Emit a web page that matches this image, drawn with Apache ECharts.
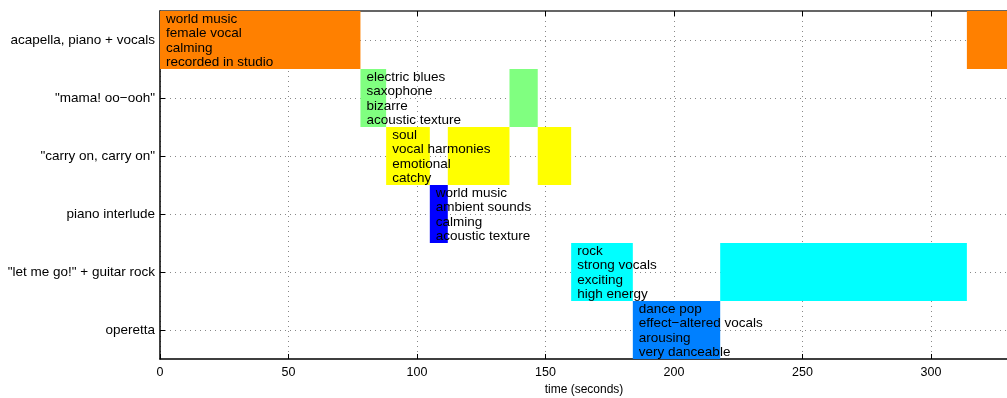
<!DOCTYPE html>
<html><head><meta charset="utf-8">
<script src="https://cdn.jsdelivr.net/npm/echarts@6/dist/echarts.min.js"></script>
<style>html,body{margin:0;padding:0;background:#fff}#c{width:1007px;height:398px}</style>
</head><body><div id="c"></div>
<script>
var categories = ['acapella, piano + vocals', '"mama! oo\u2212ooh"', '"carry on, carry on"', 'piano interlude', '"let me go!" + guitar rock', 'operetta'];
var segStart = [0, 78, 88, 105, 112, 136, 147, 160, 184, 218, 314];
var segEnd   = [78, 88, 105, 112, 136, 147, 160, 184, 218, 314, 330];
var segCat   = [0, 1, 2, 3, 2, 1, 2, 4, 5, 4, 0];
var tags0 = ['world music', 'female vocal', 'calming', 'recorded in studio'];
var tags1 = ['electric blues', 'saxophone', 'bizarre', 'acoustic texture'];
var tags2 = ['soul', 'vocal harmonies', 'emotional', 'catchy'];
var tags3 = ['world music', 'ambient sounds', 'calming', 'acoustic texture'];
var tags4 = ['rock', 'strong vocals', 'exciting', 'high energy'];
var tags5 = ['dance pop', 'effect\u2212altered vocals', 'arousing', 'very danceable'];
var xTicks = [0, 50, 100, 150, 200, 250, 300];

var tagLists = [tags0, tags1, tags2, tags3, tags4, tags5];
var palette = ['#FF8000', '#80FF80', '#FFFF00', '#0000FF', '#00FFFF', '#0080FF'];
var FONT = "'Liberation Sans', Arial, sans-serif";

var segData = segStart.map(function (s, i) { return [s, segEnd[i], segCat[i]]; });
var labelData = [];
categories.forEach(function (c, ci) {
  var first = null;
  for (var i = 0; i < segCat.length; i++) {
    if (segCat[i] === ci && (first === null || segStart[i] < first)) first = segStart[i];
  }
  labelData.push([first, ci]);
});

var chart = echarts.init(document.getElementById('c'), null, {renderer: 'canvas'});
var dotted = {color: '#888', width: 1, type: [1, 4]};
chart.setOption({
  animation: false,
  grid: {left: 160, top: 11, width: 848, height: 348, outerBoundsMode: 'none', containLabel: false},
  xAxis: [{
    type: 'value', min: 0, max: 330, interval: 50, position: 'bottom',
    name: 'time (seconds)', nameLocation: 'middle', nameGap: 24,
    nameTextStyle: {fontFamily: FONT, fontSize: 12, color: '#000'},
    axisLine: {show: true, onZero: false, lineStyle: {color: '#000', width: 1.5}},
    axisTick: {show: true, inside: true, length: 5, lineStyle: {color: '#000'}},
    axisLabel: {fontFamily: FONT, fontSize: 12.5, color: '#000', margin: 7, showMaxLabel: false,
      formatter: function (v) { return xTicks.indexOf(v) >= 0 ? String(v) : ''; }},
    splitLine: {show: true, lineStyle: dotted}
  }, {
    type: 'value', min: 0, max: 330, interval: 50, position: 'top',
    axisLine: {show: true, onZero: false, lineStyle: {color: '#333', width: 1.5}},
    axisTick: {show: true, inside: true, length: 5, lineStyle: {color: '#000'}},
    axisLabel: {show: false}, splitLine: {show: false}
  }],
  yAxis: {
    type: 'category', data: categories, inverse: true,
    axisLine: {show: true, onZero: false, lineStyle: {color: '#000', width: 1.5}},
    axisTick: {show: true, inside: true, length: 5, alignWithLabel: true, lineStyle: {color: '#000'}},
    axisLabel: {fontFamily: FONT, fontSize: 13.5, color: '#000', margin: 5},
    splitLine: {show: true, alignWithLabel: true, lineStyle: dotted}
  },
  series: [{
    type: 'custom', z: 2,
    data: segData,
    encode: {x: [0, 1], y: 2},
    renderItem: function (params, api) {
      var ci = api.value(2);
      var p0 = api.coord([api.value(0), ci]);
      var p1 = api.coord([api.value(1), ci]);
      var h = api.size([0, 1])[1];
      return {type: 'rect', shape: {x: p0[0], y: p0[1] - h / 2, width: p1[0] - p0[0], height: h},
        style: {fill: palette[ci]}};
    }
  }, {
    type: 'custom', z: 5,
    data: labelData,
    encode: {x: 0, y: 1},
    renderItem: function (params, api) {
      var ci = api.value(1);
      var p = api.coord([api.value(0), ci]);
      return {type: 'text', x: p[0] + 6, y: p[1] + 1,
        style: {text: tagLists[ci].join('\n'), fontFamily: FONT, fontSize: 13.5, lineHeight: 14.5,
          fill: '#000', align: 'left', verticalAlign: 'middle'}};
    }
  }]
});
</script></body></html>
